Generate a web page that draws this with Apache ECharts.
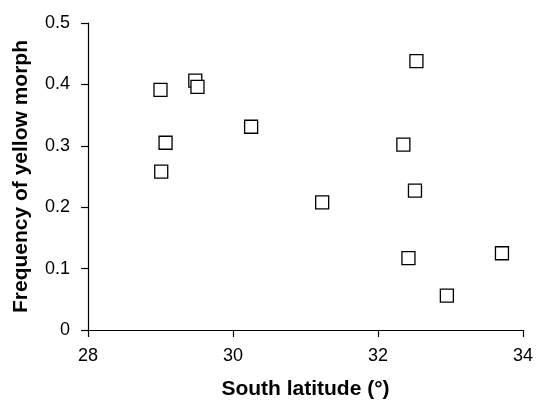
<!DOCTYPE html>
<html><head><meta charset="utf-8">
<script src="https://cdn.jsdelivr.net/npm/echarts@6/dist/echarts.min.js"></script>
<style>html,body{margin:0;padding:0;background:#fff}#c{width:536px;height:405px}</style>
</head><body><div id="c"></div>
<script>
const latitude = [29.0, 29.48, 29.51, 30.25, 29.07, 29.01, 32.53, 32.35, 32.51, 31.23, 32.42, 33.71, 32.95];
const yellowFreq = [0.391, 0.406, 0.396, 0.331, 0.305, 0.258, 0.438, 0.302, 0.227, 0.208, 0.117, 0.125, 0.056];
const xTicks = [28, 30, 32, 34];
const yTicks = [0, 0.1, 0.2, 0.3, 0.4, 0.5];

const chart = echarts.init(document.getElementById('c'));
const font = 'Liberation Sans, Arial, sans-serif';
chart.setOption({
  animation: false,
  grid: { left: 88, right: 11, top: 23, bottom: 74 },
  xAxis: {
    type: 'value', min: xTicks[0], max: xTicks[xTicks.length - 1], interval: 2,
    name: 'South latitude (°)', nameLocation: 'middle', nameGap: 49,
    nameTextStyle: { fontFamily: font, fontSize: 21, fontWeight: 'bold', color: '#000' },
    axisLine: { lineStyle: { color: '#000', width: 1.2 } },
    axisTick: { show: true, length: 7, lineStyle: { color: '#000', width: 1.2 } },
    axisLabel: { fontFamily: font, fontSize: 18, color: '#000', margin: 17 },
    splitLine: { show: false }
  },
  yAxis: {
    type: 'value', min: yTicks[0], max: yTicks[yTicks.length - 1], interval: 0.1,
    name: 'Frequency of yellow morph', nameLocation: 'middle', nameGap: 56,
    nameTextStyle: { fontFamily: font, fontSize: 21, fontWeight: 'bold', color: '#000' },
    axisLine: { show: true, lineStyle: { color: '#000', width: 1.2 } },
    axisTick: { show: true, length: 7, lineStyle: { color: '#000', width: 1.2 } },
    axisLabel: { fontFamily: font, fontSize: 18, color: '#000', margin: 18 },
    splitLine: { show: false }
  },
  series: [{
    type: 'scatter',
    symbol: 'rect', symbolSize: 13,
    itemStyle: { color: '#fff', borderColor: '#000', borderWidth: 1.3, opacity: 1 },
    data: latitude.map((x, i) => [x, yellowFreq[i]])
  }]
});
</script></body></html>
